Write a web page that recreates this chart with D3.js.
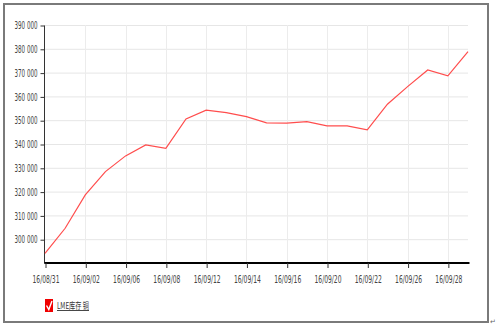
<!DOCTYPE html>
<html>
<head>
<meta charset="utf-8">
<script src="https://d3js.org/d3.v7.min.js"></script>
<style>
  body { margin: 0; background: #fff; }
  svg { display: block; }
  .lbl { font-family: "DejaVu Sans Condensed", "DejaVu Sans", sans-serif; font-size: 10px; fill: #444; }
</style>
</head>
<body>
<svg id="chart" width="497" height="329"></svg>
<script>
// trading days (labels shown every 2nd point)
const dates = ["16/08/31","16/09/01","16/09/02","16/09/05","16/09/06","16/09/07","16/09/08","16/09/09",
  "16/09/12","16/09/13","16/09/14","16/09/15","16/09/16","16/09/19","16/09/20","16/09/21",
  "16/09/22","16/09/23","16/09/26","16/09/27","16/09/28","16/09/29"];
// LME copper stocks, tonnes
const stocks = [294000, 304600, 318600, 328400, 335000, 339600, 338200, 350500,
  354200, 353200, 351500, 348900, 348800, 349400, 347600, 347600,
  345900, 356700, 364100, 371100, 368600, 378800];
const yTicks = [300000, 310000, 320000, 330000, 340000, 350000, 360000, 370000, 380000, 390000];
const seriesName = "LME库存 铜";

const svg = d3.select("#chart");

// frame around the whole picture
svg.append("rect")
  .attr("x", 4).attr("y", 4).attr("width", 484).attr("height", 318)
  .attr("fill", "none").attr("stroke", "#7a7a7a").attr("stroke-width", 2);

const x = d3.scalePoint().domain(dates).range([45, 468]);
const y = d3.scaleLinear().domain([290000, 390000]).range([263, 25]);

const labelled = dates.filter((d, i) => i % 2 === 0);

// grid
svg.append("g").selectAll("line").data(yTicks).join("line")
  .attr("x1", 45).attr("x2", 468)
  .attr("y1", d => y(d) + 0.5).attr("y2", d => y(d) + 0.5)
  .attr("stroke", "#e6e6e6");
svg.append("g").selectAll("line").data(labelled.slice(1)).join("line")
  .attr("x1", d => Math.round(x(d)) + 0.5).attr("x2", d => Math.round(x(d)) + 0.5)
  .attr("y1", y(390000)).attr("y2", 263)
  .attr("stroke", "#ececec");

// y axis
const yAxis = svg.append("g")
  .attr("transform", "translate(44.5,0.5)")
  .call(d3.axisLeft(y).tickValues(yTicks).tickSize(4).tickPadding(3)
    .tickFormat(d => d3.format(",")(d).replace(",", " ")));
yAxis.select(".domain").attr("stroke", "#333").attr("d", `M0,${y(390000)}V263`);
yAxis.selectAll(".tick line").attr("stroke", "#333");
yAxis.selectAll("text").attr("class", "lbl").attr("font-family", null).attr("font-size", null)
  .attr("textLength", 23).attr("lengthAdjust", "spacingAndGlyphs");

// x axis
const xAxis = svg.append("g")
  .attr("transform", "translate(0.5,263)")
  .call(d3.axisBottom(x).tickValues(labelled).tickSize(5).tickPadding(8));
xAxis.select(".domain").attr("stroke", "#000").attr("stroke-width", 2).attr("d", "M44,0H469");
xAxis.selectAll(".tick line").attr("stroke", "#333");
xAxis.selectAll("text").attr("class", "lbl").attr("font-family", null).attr("font-size", null)
  .attr("textLength", 27).attr("lengthAdjust", "spacingAndGlyphs");

// series line
svg.append("path")
  .datum(stocks)
  .attr("fill", "none")
  .attr("stroke", "#ff4d4d")
  .attr("stroke-width", 1.2)
  .attr("d", d3.line().x((d, i) => x(dates[i])).y(d => y(d)));

// legend
const lg = svg.append("g").attr("transform", "translate(45,299)");
lg.append("rect").attr("width", 8).attr("height", 13).attr("fill", "#f00000");
lg.append("path").attr("d", "M1.5,6.5 L3.8,10.5 L7,2").attr("fill", "none")
  .attr("stroke", "#fff").attr("stroke-width", 1.4);
lg.append("text").attr("x", 12).attr("y", 10)
  .attr("fill", "#333").attr("text-decoration", "underline")
  .style("font-family", "'Noto Sans CJK SC', sans-serif").style("font-size", "9px")
  .attr("textLength", 32).attr("lengthAdjust", "spacingAndGlyphs")
  .text(seriesName);

// paragraph mark outside frame
svg.append("text").attr("x", 490).attr("y", 324)
  .attr("font-size", 7).attr("fill", "#666").attr("font-family", "DejaVu Sans")
  .text("↵");
</script>
</body>
</html>
